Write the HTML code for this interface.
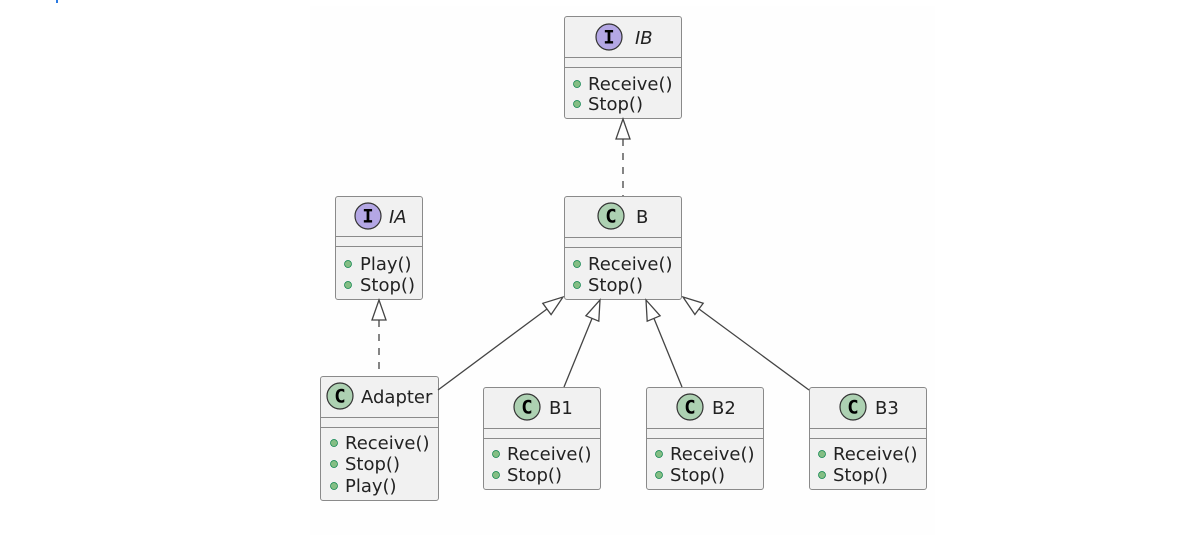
<!DOCTYPE html>
<html><head><meta charset="utf-8"><style>
html,body{margin:0;padding:0;background:#fff;}
svg{display:block;}
text{font-family:"DejaVu Sans","Liberation Sans",sans-serif;font-size:18px;fill:#222;}
.c{font-family:"DejaVu Sans Mono","Liberation Mono",monospace;font-weight:bold;font-size:19px;fill:#000;}
</style></head><body>
<svg width="1199" height="535" viewBox="0 0 1199 535" xmlns="http://www.w3.org/2000/svg">
<rect x="0" y="0" width="1199" height="535" fill="#fff"/>
<rect x="310" y="6" width="625" height="529" fill="#fefefe"/>
<rect x="56" y="0" width="2" height="3" fill="#2a7ae2"/>
<g stroke="#8a8a8a" stroke-width="1" fill="#f1f1f1">
<rect x="564.5" y="16.5" width="117" height="102" rx="2.5"/>
<line x1="564.5" y1="57.5" x2="681.5" y2="57.5"/><line x1="564.5" y1="67.5" x2="681.5" y2="67.5"/>
<rect x="335.5" y="196.5" width="87" height="103" rx="2.5"/>
<line x1="335.5" y1="236.5" x2="422.5" y2="236.5"/><line x1="335.5" y1="246.5" x2="422.5" y2="246.5"/>
<rect x="564.5" y="196.5" width="117" height="103" rx="2.5"/>
<line x1="564.5" y1="237.5" x2="681.5" y2="237.5"/><line x1="564.5" y1="247.5" x2="681.5" y2="247.5"/>
<rect x="320.5" y="376.5" width="118" height="124" rx="2.5"/>
<line x1="320.5" y1="417.5" x2="438.5" y2="417.5"/><line x1="320.5" y1="427.5" x2="438.5" y2="427.5"/>
<rect x="483.5" y="387.5" width="117" height="102" rx="2.5"/>
<line x1="483.5" y1="428.5" x2="600.5" y2="428.5"/><line x1="483.5" y1="438.5" x2="600.5" y2="438.5"/>
<rect x="646.5" y="387.5" width="117" height="102" rx="2.5"/>
<line x1="646.5" y1="428.5" x2="763.5" y2="428.5"/><line x1="646.5" y1="438.5" x2="763.5" y2="438.5"/>
<rect x="809.5" y="387.5" width="117" height="102" rx="2.5"/>
<line x1="809.5" y1="428.5" x2="926.5" y2="428.5"/><line x1="809.5" y1="438.5" x2="926.5" y2="438.5"/>
</g>
<g stroke="#444" stroke-width="1.3" fill="none">
<line x1="623" y1="139" x2="623" y2="196" stroke-dasharray="7,7"/>
<line x1="379" y1="320" x2="379" y2="376" stroke-dasharray="7,7"/>
<line x1="438" y1="390" x2="547" y2="309"/>
<line x1="564" y1="387" x2="592" y2="318.5"/>
<line x1="682" y1="387" x2="654" y2="318.5"/>
<line x1="809" y1="390" x2="699" y2="309"/>
</g>
<g stroke="#444" stroke-width="1.3" fill="#fff">
<polygon points="623,119 616,139 630,139"/>
<polygon points="379,300 372,320 386,320"/>
<polygon points="563,297 551.1,314.6 542.8,303.3"/>
<polygon points="600,300 598.8,321.2 585.9,315.8"/>
<polygon points="646,300 660.1,315.8 647.2,321.2"/>
<polygon points="683,297 703.2,303.2 694.9,314.5"/>
</g>
<g stroke="#333" stroke-width="1.2">
<circle cx="609" cy="37" r="13" fill="#b4a7e5"/>
<circle cx="368" cy="216" r="13" fill="#b4a7e5"/>
<circle cx="611" cy="216" r="13" fill="#add1b2"/>
<circle cx="340" cy="396" r="13" fill="#add1b2"/>
<circle cx="527" cy="407" r="13" fill="#add1b2"/>
<circle cx="690" cy="407" r="13" fill="#add1b2"/>
<circle cx="853" cy="407" r="13" fill="#add1b2"/>
</g>
<g text-anchor="middle">
<text class="c" x="609" y="43.5">I</text>
<text class="c" x="368" y="222.5">I</text>
<text class="c" x="611" y="222.5">C</text>
<text class="c" x="340" y="402.5">C</text>
<text class="c" x="527" y="413.5">C</text>
<text class="c" x="690" y="413.5">C</text>
<text class="c" x="853" y="413.5">C</text>
</g>
<text x="635" y="44" font-style="italic">IB</text>
<text x="389" y="223" font-style="italic">IA</text>
<text x="636" y="223">B</text>
<text x="361" y="403">Adapter</text>
<text x="549" y="414">B1</text>
<text x="712" y="414">B2</text>
<text x="875" y="414">B3</text>
<g fill="#84be84" stroke="#038048" stroke-width="0.7">
<circle cx="577" cy="84" r="3.5"/><circle cx="577" cy="104" r="3.5"/>
<circle cx="348" cy="264" r="3.5"/><circle cx="348" cy="285" r="3.5"/>
<circle cx="577" cy="264" r="3.5"/><circle cx="577" cy="285" r="3.5"/>
<circle cx="334" cy="443" r="3.5"/><circle cx="334" cy="464" r="3.5"/><circle cx="334" cy="486" r="3.5"/>
<circle cx="496" cy="454" r="3.5"/><circle cx="496" cy="475" r="3.5"/>
<circle cx="659" cy="454" r="3.5"/><circle cx="659" cy="475" r="3.5"/>
<circle cx="822" cy="454" r="3.5"/><circle cx="822" cy="475" r="3.5"/>
</g>
<text x="588" y="90">Receive()</text><text x="588" y="110">Stop()</text>
<text x="360" y="270">Play()</text><text x="360" y="291">Stop()</text>
<text x="588" y="270">Receive()</text><text x="588" y="291">Stop()</text>
<text x="345" y="449">Receive()</text><text x="345" y="470">Stop()</text><text x="345" y="492">Play()</text>
<text x="507" y="460">Receive()</text><text x="507" y="481">Stop()</text>
<text x="670" y="460">Receive()</text><text x="670" y="481">Stop()</text>
<text x="833" y="460">Receive()</text><text x="833" y="481">Stop()</text>
</svg>
</body></html>
